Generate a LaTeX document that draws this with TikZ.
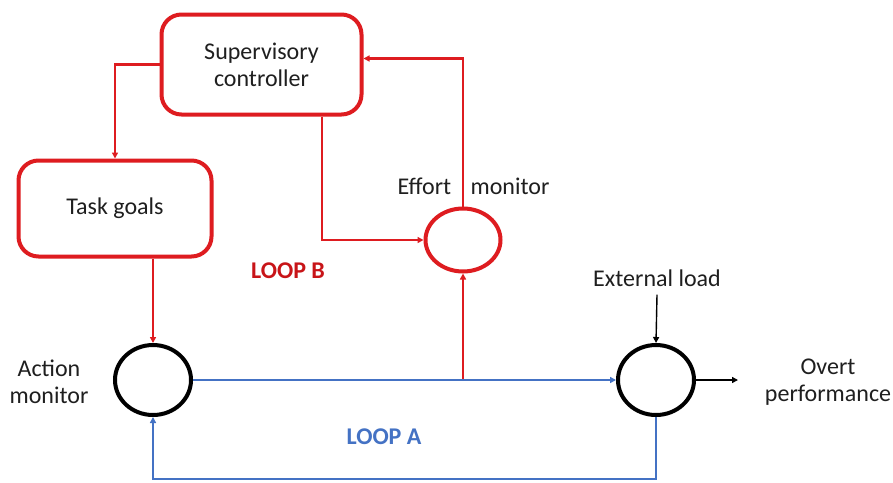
\documentclass[tikz,border=0pt]{standalone}
\usepackage{fontspec}
\setmainfont{Carlito}
\usetikzlibrary{arrows.meta,shapes.geometric}
\definecolor{boxred}{RGB}{222,28,32}
\definecolor{loopred}{RGB}{200,20,24}
\definecolor{loopblue}{RGB}{68,114,196}
\tikzset{
  lbl/.style={font=\fontsize{24pt}{27pt}\selectfont, inner sep=0pt, text=black!88, align=center},
  redbox/.style={draw=boxred, line width=4pt, rounded corners=20pt, lbl},
  sumblack/.style={ellipse, draw=black, line width=4pt, minimum width=76pt, minimum height=70pt, inner sep=0pt},
  sumred/.style={ellipse, draw=boxred, line width=4pt, minimum width=75pt, minimum height=63pt, inner sep=0pt},
  tip/.style={-{Triangle[length=6pt,width=6pt]}},
  redline/.style={tip, draw=boxred, line width=2.2pt},
  blueline/.style={tip, draw=loopblue, line width=2.2pt},
  blackline/.style={tip, draw=black, line width=1.4pt},
  looplbl/.style={font=\bfseries\fontsize{24pt}{27pt}\selectfont, inner sep=0pt}
}
\begin{document}
\begin{tikzpicture}[x=1pt,y=-1pt]
\useasboundingbox[fill=white] (0,0) rectangle (893,482);

% boxes
\node[redbox, minimum width=200pt, minimum height=100pt] (sup) at (261.5,64.5) {Supervisory\\controller};
\node[redbox, minimum width=193pt, minimum height=96pt] (task) at (115,208.5) {Task goals};

% summing points
\node[sumred] (effort) at (463,240) {};
\node[sumblack] (action) at (153,380) {};
\node[sumblack] (output) at (656,380) {};

% labels
\node[lbl] (efflbl) at (424.5,186) {Effort};
\node[lbl] (monlbl) at (510,186) {monitor};
\node[lbl] (actlbl) at (49,382) {Action\\monitor};
\node[lbl] (extlbl) at (657,278) {External load};
\node[lbl] (ovlbl) at (828,382) {Overt\\performance};
\node[looplbl, text=loopred] (loopb) at (288,271) {LOOP B};
\node[looplbl, text=loopblue] (loopa) at (384,437) {LOOP A};

% free ends
\coordinate (base) at (400,479);
\coordinate (outtip) at (738,380);

% loop B (red)
\draw[redline] (sup.west) -| (task.north);
\draw[redline] ([xshift=60.5pt]sup.south) |- (effort.west);
\draw[redline] (effort.north) |- ([yshift=6pt]sup.east);
\draw[redline] (action.north |- task.south) -- (action.north);
\draw[redline] (effort.south |- action.east) -- (effort.south);

% loop A (blue)
\draw[blueline] (action.east) -- (output.west);
\draw[blueline] (output.south) |- (base) -| (action.south);

% external load and output
\draw[blackline] ([yshift=-8pt]extlbl.south) -- (output.north);
\draw[blackline] (output.east) -- (outtip);
\end{tikzpicture}
\end{document}
